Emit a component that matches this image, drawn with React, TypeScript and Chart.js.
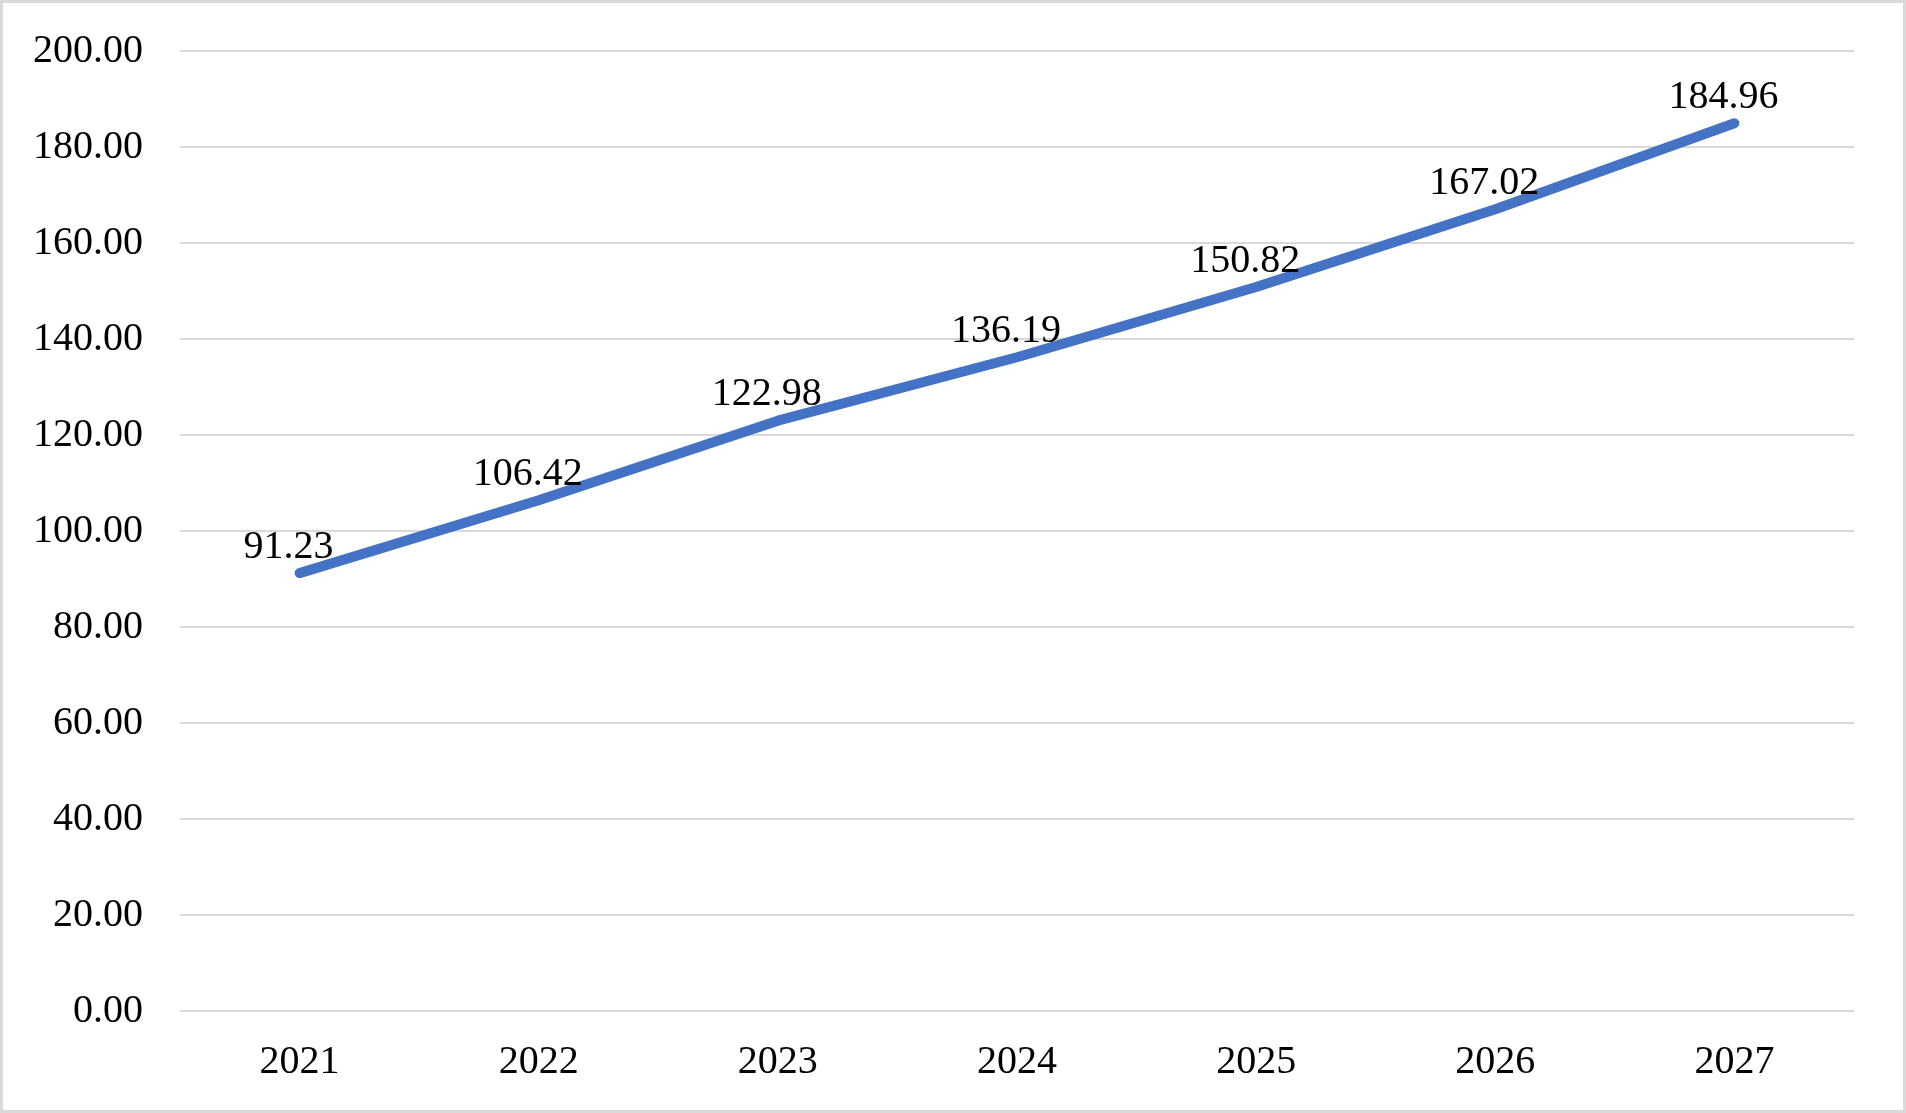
import React, { useEffect, useRef } from "react";
import { Chart, registerables } from "chart.js";

Chart.register(...registerables);

const categories = ["2021", "2022", "2023", "2024", "2025", "2026", "2027"];
const values = [91.23, 106.42, 122.98, 136.19, 150.82, 167.02, 184.96];
const yMin = 0;
const yMax = 200;
const yStep = 20;

const FONT = "'Liberation Serif', 'Times New Roman', serif";

// target plot area in the 1906x1113 frame
const AREA = { left: 180, top: 51, right: 1854, bottom: 1011 };

const borderPlugin = {
  id: "outerBorder",
  beforeDraw(chart: any) {
    const { ctx, width, height } = chart;
    ctx.save();
    ctx.fillStyle = "#ffffff";
    ctx.fillRect(0, 0, width, height);
    ctx.strokeStyle = "#d9d9d9";
    ctx.lineWidth = 3;
    ctx.strokeRect(1.5, 1.5, width - 3, height - 3);
    ctx.restore();
  },
};

const labelPlugin = {
  id: "valueLabels",
  afterDatasetsDraw(chart: any) {
    const { ctx } = chart;
    const meta = chart.getDatasetMeta(0);
    const data = chart.data.datasets[0].data as number[];
    ctx.save();
    ctx.font = `40px ${FONT}`;
    ctx.fillStyle = "#000000";
    ctx.textAlign = "center";
    ctx.textBaseline = "middle";
    meta.data.forEach((pt: any, i: number) => {
      ctx.fillText(data[i].toFixed(2), pt.x - 11, pt.y - 26);
    });
    ctx.restore();
  },
};

function build(canvas: HTMLCanvasElement, padding: any) {
  return new Chart(canvas, {
    type: "line",
    data: {
      labels: categories,
      datasets: [
        {
          data: values,
          borderColor: "#4472C4",
          backgroundColor: "#4472C4",
          borderWidth: 10,
          borderCapStyle: "round",
          borderJoinStyle: "round",
          pointRadius: 0,
          tension: 0,
          fill: false,
        },
      ],
    },
    options: {
      animation: false,
      responsive: false,
      maintainAspectRatio: false,
      devicePixelRatio: 1,
      layout: { padding },
      plugins: {
        legend: { display: false },
        tooltip: { enabled: false },
        title: { display: false },
      },
      scales: {
        x: {
          offset: true,
          grid: { display: false, drawTicks: false },
          border: { display: false },
          ticks: {
            color: "#000000",
            font: { family: FONT, size: 40 },
            padding: 27,
            maxRotation: 0,
          },
          afterFit(scale: any) {
            scale.height = 80;
            scale.paddingLeft = 0;
            scale.paddingRight = 0;
          },
        },
        y: {
          min: yMin,
          max: yMax,
          grid: { color: "#d9d9d9", lineWidth: 2, drawTicks: false },
          border: { display: false },
          ticks: {
            stepSize: yStep,
            color: "#000000",
            font: { family: FONT, size: 40 },
            padding: 37,
            callback: (v: any) => Number(v).toFixed(2),
          },
          afterFit(scale: any) {
            scale.width = 180;
            scale.paddingTop = 0;
            scale.paddingBottom = 0;
          },
        },
      },
    },
    plugins: [borderPlugin, labelPlugin],
  } as any);
}

export default function App() {
  const ref = useRef<HTMLCanvasElement | null>(null);

  useEffect(() => {
    document.body.style.margin = "0";
    const canvas = ref.current;
    if (!canvas) return;
    const padding = { top: 51, right: 52, bottom: 22, left: 0 };
    let chart: any = build(canvas, { ...padding });
    // rebuild so the plot area lands exactly on the target frame
    for (let i = 0; i < 2; i++) {
      const ca = chart.chartArea;
      padding.top += AREA.top - ca.top;
      padding.bottom += ca.bottom - AREA.bottom;
      padding.left += AREA.left - ca.left;
      padding.right += ca.right - AREA.right;
      chart.destroy();
      chart = build(canvas, { ...padding });
    }
    return () => chart.destroy();
  }, []);

  return (
    <div style={{ position: "absolute", left: 0, top: 0, width: 1906, height: 1113 }}>
      <canvas ref={ref} width={1906} height={1113} style={{ width: 1906, height: 1113, display: "block" }} />
    </div>
  );
}
